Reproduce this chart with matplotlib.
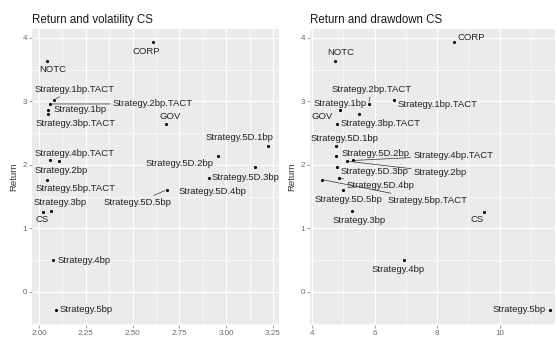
import matplotlib
matplotlib.use("Agg")
import matplotlib.pyplot as plt
from matplotlib.ticker import MultipleLocator, FixedLocator

plt.rcParams['font.family'] = ['Liberation Sans', 'DejaVu Sans']

# ---- data -------------------------------------------------------------
names = [
    "CORP", "NOTC", "Strategy.1bp.TACT", "Strategy.2bp.TACT", "Strategy.1bp",
    "Strategy.3bp.TACT", "GOV", "Strategy.5D.1bp", "Strategy.5D.2bp",
    "Strategy.4bp.TACT", "Strategy.2bp", "Strategy.5D.3bp", "Strategy.5D.4bp",
    "Strategy.5bp.TACT", "Strategy.5D.5bp", "Strategy.3bp", "CS",
    "Strategy.4bp", "Strategy.5bp",
]
returns = [3.93, 3.64, 3.03, 2.96, 2.86, 2.80, 2.64, 2.30, 2.14, 2.07, 2.06,
           1.96, 1.79, 1.77, 1.61, 1.28, 1.26, 0.50, -0.28]
volatility = [2.607, 2.044, 2.080, 2.059, 2.050, 2.050, 2.677, 3.225, 2.958,
              2.059, 2.108, 3.154, 2.908, 2.044, 2.682, 2.062, 2.020, 2.076, 2.091]
drawdown = [8.53, 4.73, 6.62, 5.81, 4.89, 5.50, 4.79, 4.78, 4.77, 5.30, 5.11,
            4.81, 4.87, 4.31, 4.98, 5.28, 9.49, 6.94, 11.61]

vol_ticks = [2.00, 2.25, 2.50, 2.75, 3.00, 3.25]
dd_ticks = [4, 6, 8, 10]
ret_ticks = [0, 1, 2, 3, 4]

# ---- label placement (pixel offsets from each point) --------------------
vol_offsets = {
    "CORP": (-6, -9), "NOTC": (6, -9), "Strategy.1bp.TACT": (21, 10),
    "Strategy.2bp.TACT": (103, 0), "Strategy.1bp": (32, 1),
    "Strategy.3bp.TACT": (27, -9), "GOV": (4, 8), "Strategy.5D.1bp": (-29, 8),
    "Strategy.5D.2bp": (-39, -7), "Strategy.4bp.TACT": (25, 7),
    "Strategy.2bp": (2, -9), "Strategy.5D.3bp": (-10, -10),
    "Strategy.5D.4bp": (4, -13), "Strategy.5bp.TACT": (28, -9),
    "Strategy.5D.5bp": (-29, -13), "Strategy.3bp": (10, 8), "CS": (-1, -8),
    "Strategy.4bp": (31, 0), "Strategy.5bp": (30, 0),
}
vol_segments = {"Strategy.2bp.TACT", "Strategy.5D.5bp", "Strategy.1bp.TACT"}

dd_offsets = {
    "CORP": (18, 5), "NOTC": (6, 8), "Strategy.2bp.TACT": (3, 14),
    "Strategy.1bp": (0, 7), "Strategy.1bp.TACT": (44, -5), "GOV": (-14, 8),
    "Strategy.3bp.TACT": (22, -9), "Strategy.5D.1bp": (8, 7),
    "Strategy.5D.2bp": (39, 3), "Strategy.4bp.TACT": (101, 5),
    "Strategy.2bp": (94, -11), "Strategy.5D.3bp": (37, -4),
    "Strategy.5D.4bp": (41, -7), "Strategy.5D.5bp": (6, -10),
    "Strategy.5bp.TACT": (106, -21), "Strategy.3bp": (7, -10),
    "CS": (-6, -8), "Strategy.4bp": (-6, -9), "Strategy.5bp": (-31, 0),
}
dd_segments = {"Strategy.2bp.TACT", "Strategy.4bp.TACT", "Strategy.2bp",
               "Strategy.5D.4bp", "Strategy.5bp.TACT"}

W, H = 557, 340
fig = plt.figure(figsize=(W / 100, H / 100), dpi=100)
fig.patch.set_facecolor("white")


def px_axes(x0, y0, x1, y1):
    return fig.add_axes([x0 / W, 1 - y1 / H, (x1 - x0) / W, (y1 - y0) / H])


def style(ax, title, xlabel, xticks, xminor, xlim):
    ax.set_facecolor("#EBEBEB")
    for s in ax.spines.values():
        s.set_visible(False)
    ax.set_xlim(*xlim)
    ax.set_ylim(-0.52, 4.14)
    ax.xaxis.set_major_locator(FixedLocator(xticks))
    ax.xaxis.set_minor_locator(MultipleLocator(xminor))
    ax.yaxis.set_major_locator(FixedLocator(ret_ticks))
    ax.yaxis.set_minor_locator(MultipleLocator(0.5))
    ax.grid(which="major", color="white", lw=0.9)
    ax.grid(which="minor", color="white", lw=0.45)
    ax.set_axisbelow(True)
    ax.tick_params(which="major", length=2, width=0.5, color="#777777",
                   labelsize=5.8, labelcolor="#6a6a6a", pad=1.5)
    ax.tick_params(which="minor", length=0)
    ax.set_title(title, loc="left", fontsize=8.3, color="#1a1a1a", pad=4)
    ax.set_ylabel("Return", fontsize=6.8, color="#333333", labelpad=3)
    ax.set_xlabel(xlabel, fontsize=6.8, color="#333333", labelpad=4)


def draw(ax, xs, offsets, segments):
    ax.scatter(xs, returns, s=5, color="black", zorder=3, linewidths=0)
    for name, x, y in zip(names, xs, returns):
        dx, dy = offsets[name]
        kw = {}
        if name in segments:
            kw["arrowprops"] = dict(arrowstyle="-", color="#333333", lw=0.5,
                                    shrinkA=0, shrinkB=1.5)
        ax.annotate(name, (x, y), xytext=(dx, dy), textcoords="offset pixels",
                    ha="center", va="center", fontsize=6.8, color="#222222",
                    annotation_clip=False, zorder=4, **kw)


ax1 = px_axes(32, 29, 279, 325)
style(ax1, "Return and volatility CS", "Volatility", vol_ticks, 0.125,
      (1.9626, 3.282))
ax1.xaxis.set_major_formatter(plt.FuncFormatter(lambda v, p: f"{v:.2f}"))
draw(ax1, volatility, vol_offsets, vol_segments)

ax2 = px_axes(310, 29, 555, 325)
style(ax2, "Return and drawdown CS", "Drawdown", dd_ticks, 1, (3.936, 11.776))
draw(ax2, drawdown, dd_offsets, dd_segments)

fig.savefig("out.png", dpi=100)
